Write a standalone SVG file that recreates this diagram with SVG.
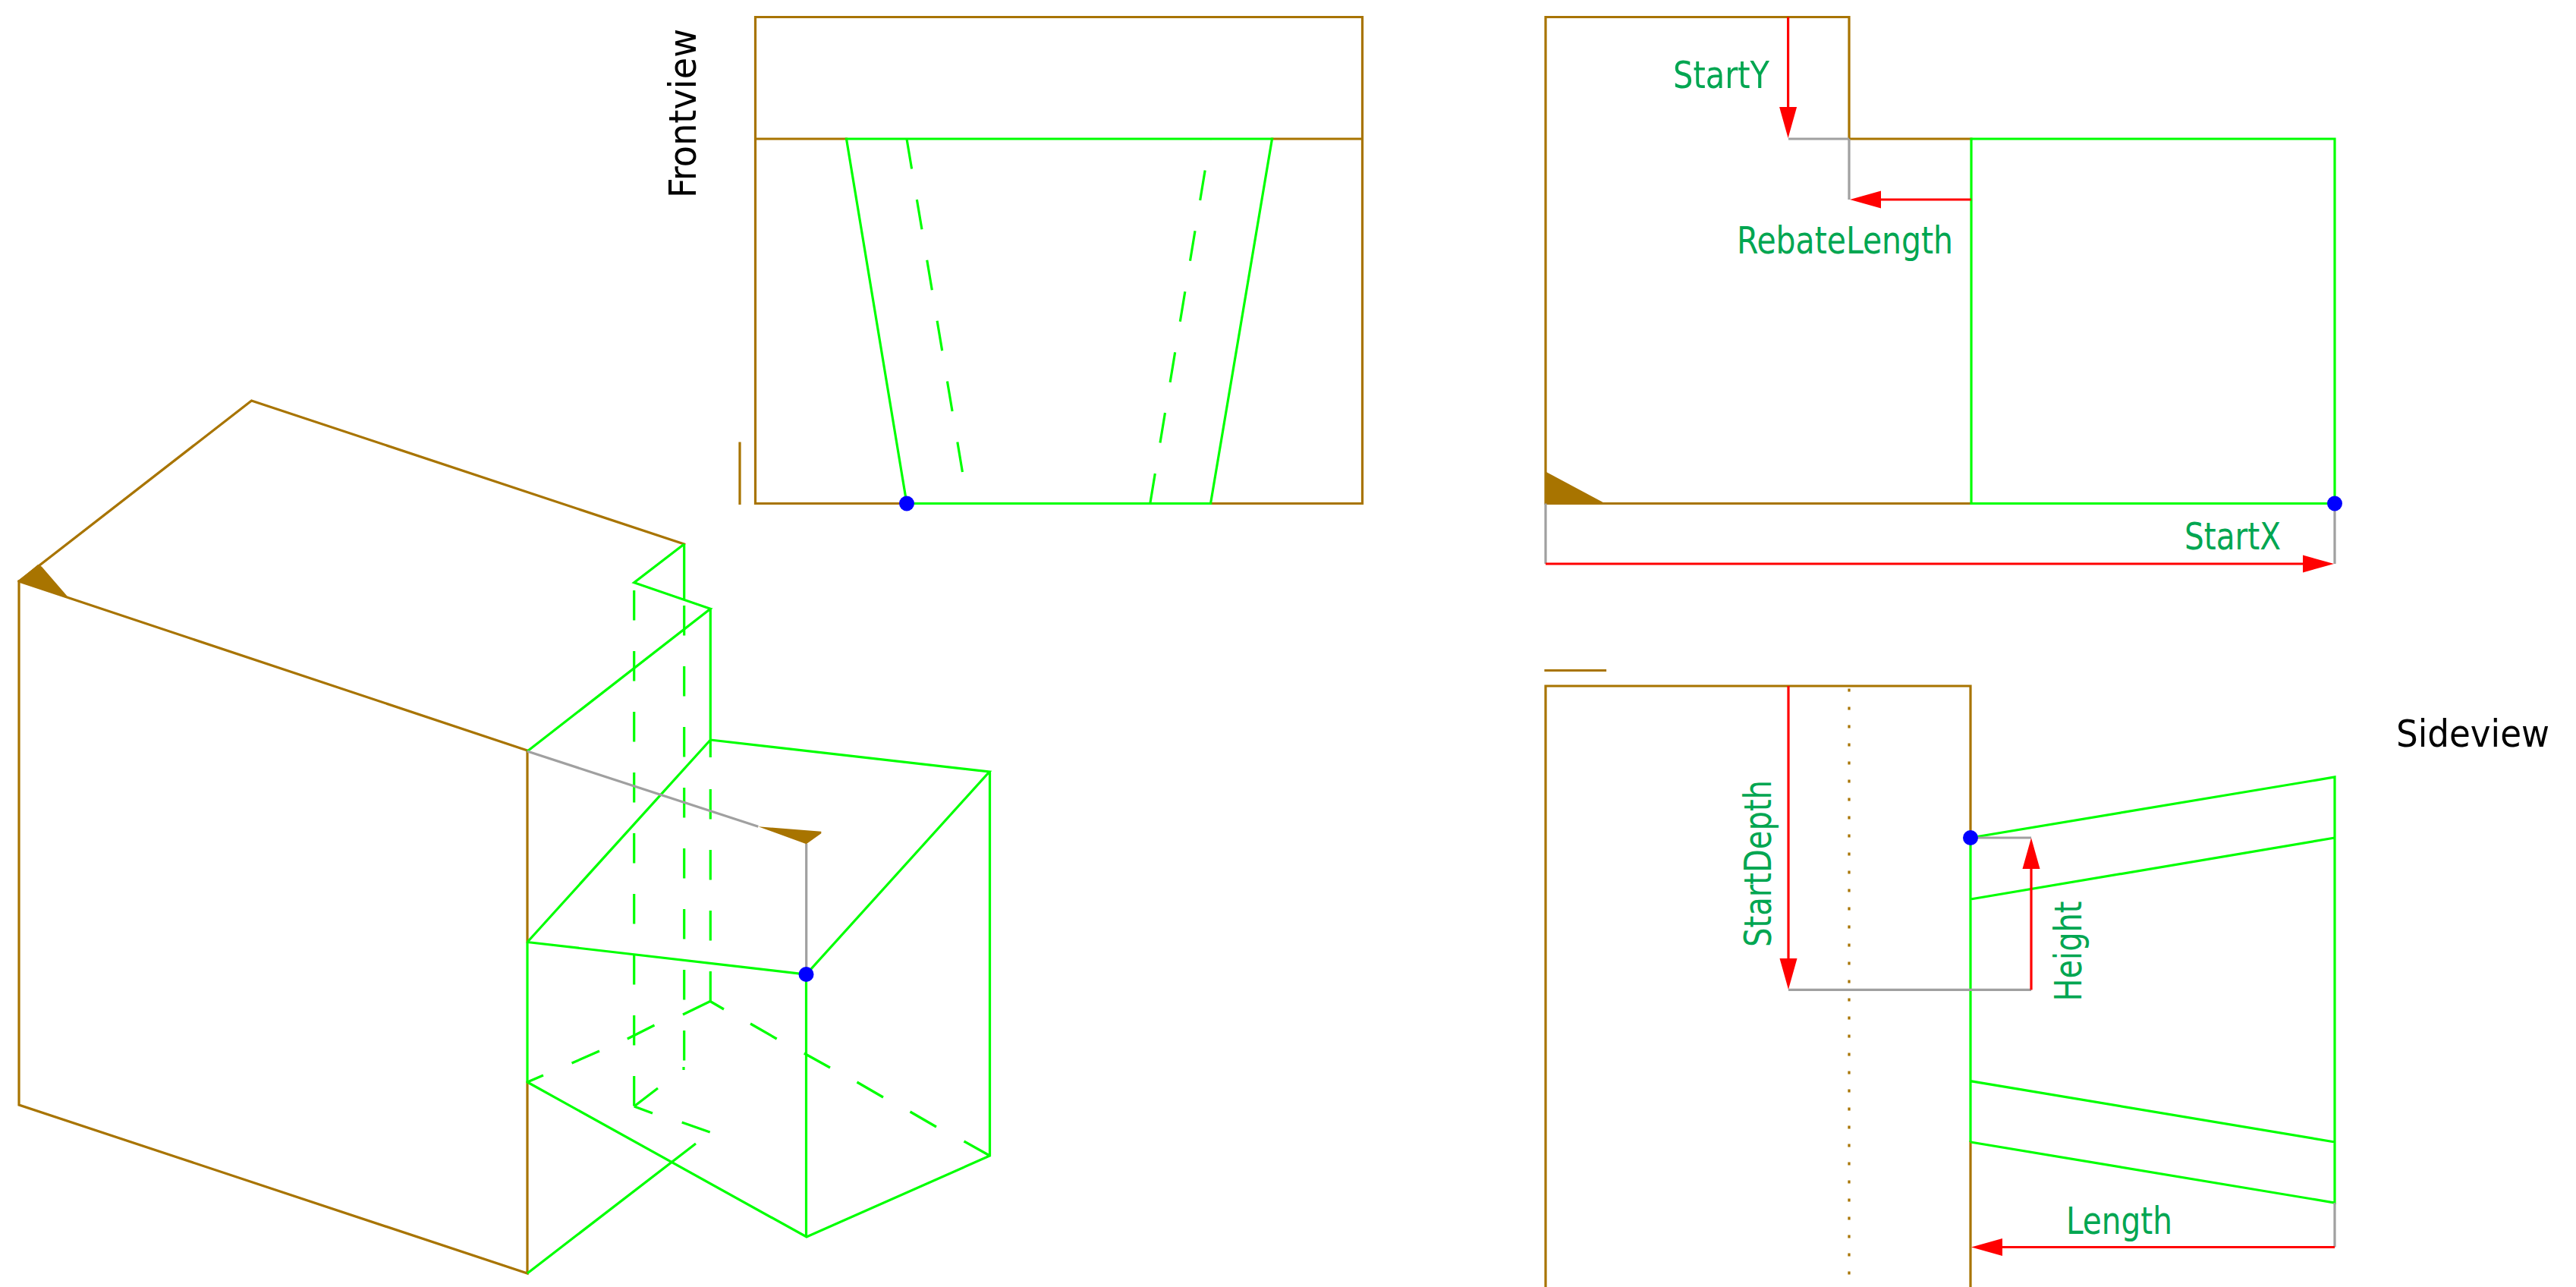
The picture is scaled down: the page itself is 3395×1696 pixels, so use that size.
<svg xmlns="http://www.w3.org/2000/svg" width="3395" height="1696" viewBox="0 0 3395 1696">
<style>
.b{stroke:#a87400;stroke-width:3.2;fill:none;stroke-linecap:square}
.g{stroke:#00ff00;stroke-width:3.2;fill:none;stroke-linecap:butt}
.d{stroke:#00ff00;stroke-width:3.2;fill:none;stroke-dasharray:39.5 40.5}
.y{stroke:#a0a0a0;stroke-width:3.2;fill:none}
.r{stroke:#ff0000;stroke-width:3.2;fill:none;marker-end:url(#arrow)}
.f{fill:#a87400;stroke:none}
.p{fill:#0000ff;stroke:none}
text{font-family:"DejaVu Sans Condensed","DejaVu Sans",sans-serif;font-size:50px}
.k{fill:#000000}
.l{fill:#00a651}
</style>
<defs>
<marker id="arrow" markerUnits="userSpaceOnUse" markerWidth="42" markerHeight="24" refX="21" refY="12" orient="auto">
<path d="M0 0.5L41 12L0 23.5Z" fill="#ff0000"/>
</marker>
</defs>
<rect width="3395" height="1696" fill="#ffffff"/>

<g id="iso-view">
<path class="b" d="M25 766L331.5 528L901.7 717M25 766L695 989M25 766V1456L695 1678V1426M695 990V1241"/>
<path class="f" d="M24 765.7L50 744L55 746.7L90 787.3Z"/>
<path class="g" d="M901.7 717L835.7 767.7L936.3 802.3L695 990M901.7 717V790M936.3 802.3V998M936.3 975L1304 1017L1062.5 1284L695 1241.5M936.3 975L695 1241.5M695 1241.5V1426L1063 1630L1304.5 1523V1017M1062.5 1284V1630M695 1678L917 1507"/>
<path class="d" d="M835.7 778V1458"/>
<path class="d" d="M901.7 798V1398"/>
<path class="d" d="M936.3 1040V1320"/>
<path class="g" d="M901 1406V1410"/>
<path class="g" d="M835.7 1458L867 1434M835.7 1458L860 1467M898.7 1479L935.7 1492M936 1319.5L900 1337M862.5 1351L826.8 1369M790 1385L753.6 1401M716 1417L695 1426M936 1319.5L954 1330M989 1349L1023.7 1369M1059.8 1388L1094 1407M1129.5 1426L1164 1446M1199.5 1465L1234 1485M1270.5 1504L1304.5 1523"/>
<path class="y" d="M695 990L999.3 1089.3M1062.7 1112V1284"/>
<path class="f" d="M999.3 1089.3L1082.3 1095.7L1082.3 1098.3L1062.7 1112.3Z"/>
<circle class="p" cx="1062.5" cy="1284" r="10"/>
</g>

<g id="front-view">
<path class="b" d="M995.5 22.5H1795.5V663.5H1595.5M1195 663.5H995.5V22.5M995.5 183H1115.5M1676.5 183H1795.5M975 584V663.5"/>
<path class="g" d="M1115.5 183H1676.5L1595.5 663.5H1195ZM1195 663.5"/>
<path class="d" style="stroke-dasharray:40 41" d="M1195 183L1275.4 663.5"/>
<path class="d" style="stroke-dasharray:40 41" d="M1515.8 663.5L1595 183"/>
<circle class="p" cx="1195" cy="663.5" r="10"/>
<text class="k" transform="translate(917 261) rotate(-90)" textLength="223" lengthAdjust="spacingAndGlyphs">Frontview</text>
</g>

<g id="top-view">
<path class="b" d="M2598 183H2437V22.5H2037V663.5H2598"/>
<path class="f" d="M2037 621.4L2117.4 664.5H2037Z"/>
<path class="g" d="M2598 183H3077V663.5H2598ZM2598 183"/>
<path class="y" d="M2037 663.5V743M3077 663.5V743M2357 183H2437M2437 183V263"/>
<path class="r" d="M2356.6 22.5V162"/>
<path class="r" d="M2598 263H2458"/>
<path class="r" d="M2037 743H3056"/>
<circle class="p" cx="3077" cy="663.5" r="10"/>
<text class="l" x="2205" y="116" textLength="127" lengthAdjust="spacingAndGlyphs">StartY</text>
<text class="l" x="2289" y="334" textLength="285" lengthAdjust="spacingAndGlyphs">RebateLength</text>
<text class="l" x="2879" y="723.5" textLength="127" lengthAdjust="spacingAndGlyphs">StartX</text>
</g>

<g id="side-view">
<path class="b" d="M2037 883.5H2115.5M2037 1696V904H2597V1104M2597 1505V1696"/>
<path class="b" style="stroke-dasharray:4 20;stroke-linecap:butt" d="M2437 907.5V1696"/>
<path class="g" d="M2597 1104V1505M2597 1104L3077 1024V1585L2597 1505M2597 1185L3077 1104M2597 1424.7L3077 1505"/>
<path class="y" d="M2597 1104H2677M2357 1304.4H2677M3077 1585V1643.5"/>
<path class="r" d="M2357 904V1284"/>
<path class="r" d="M2677 1304.4V1124"/>
<path class="r" d="M3077 1643.5H2618"/>
<circle class="p" cx="2597" cy="1104" r="10"/>
<text class="k" x="3158" y="984" textLength="202" lengthAdjust="spacingAndGlyphs">Sideview</text>
<text class="l" transform="translate(2333.6 1248) rotate(-90)" textLength="220" lengthAdjust="spacingAndGlyphs">StartDepth</text>
<text class="l" transform="translate(2743 1319.5) rotate(-90)" textLength="132" lengthAdjust="spacingAndGlyphs">Height</text>
<text class="l" x="2723" y="1626" textLength="140" lengthAdjust="spacingAndGlyphs">Length</text>
</g>
</svg>
